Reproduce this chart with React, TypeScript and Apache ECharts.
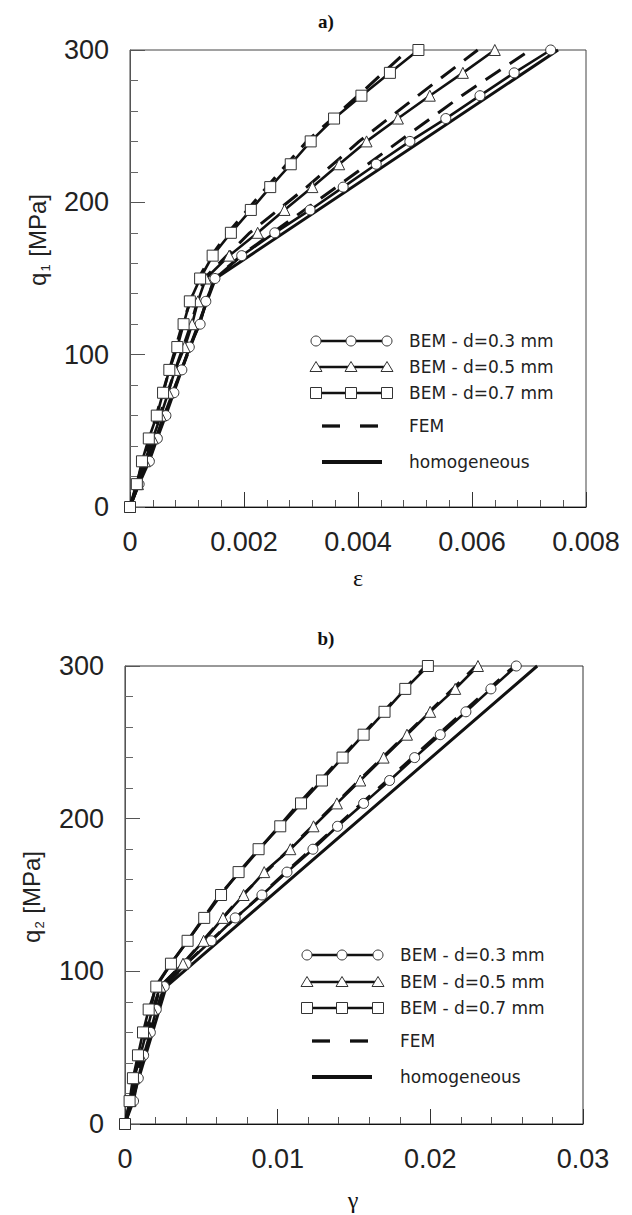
import React, { useEffect, useRef } from "react";
import * as echarts from "echarts";

// ---------- chart a) ----------
const qA = [0, 15, 30, 45, 60, 75, 90, 105, 120, 135, 150, 165, 180, 195, 210, 225, 240, 255, 270, 285, 300];
const bem03A = [0, 0.00016, 0.00034, 0.00048, 0.00063, 0.00077, 0.00091, 0.00104, 0.00123, 0.00133, 0.00149, 0.00196, 0.00254, 0.00316, 0.00374, 0.00432, 0.00491, 0.00554, 0.00614, 0.00674, 0.00738];
const bem05A = [0, 0.00014, 0.00026, 0.0004, 0.00054, 0.00067, 0.00079, 0.00096, 0.00109, 0.00119, 0.00133, 0.00174, 0.00224, 0.00271, 0.0032, 0.00367, 0.00415, 0.0047, 0.00526, 0.00584, 0.0064];
const bem07A = [0, 0.00012, 0.00021, 0.00033, 0.00047, 0.00058, 0.00069, 0.00083, 0.00094, 0.00105, 0.00123, 0.00145, 0.00177, 0.00212, 0.00246, 0.00282, 0.00317, 0.00358, 0.00406, 0.00456, 0.00506];
const qFemA = [0, 60, 120, 150, 165, 180, 210, 240, 270, 300];
const fem03A = [0, 0.0006, 0.00121, 0.00148, 0.00195, 0.0025, 0.00362, 0.00472, 0.00582, 0.00702];
const fem05A = [0, 0.00052, 0.00107, 0.0013, 0.0017, 0.0021, 0.0031, 0.00402, 0.00505, 0.0061];
const fem07A = [0, 0.00046, 0.00092, 0.0012, 0.00143, 0.00172, 0.0024, 0.0031, 0.004, 0.00488];
const qHomA = [0, 150, 300];
const homA = [0, 0.0015, 0.00751];
const xLabelsA = ["0", "0.002", "0.004", "0.006", "0.008"];
const xStepA = 0.002;

// ---------- chart b) ----------
const qB = [0, 15, 30, 45, 60, 75, 90, 105, 120, 135, 150, 165, 180, 195, 210, 225, 240, 255, 270, 285, 300];
const bem03B = [0, 0.00056, 0.00087, 0.00122, 0.00166, 0.00205, 0.00257, 0.00401, 0.00565, 0.00722, 0.00897, 0.01061, 0.01231, 0.01392, 0.01563, 0.01733, 0.01897, 0.02065, 0.02233, 0.02397, 0.02563];
const bem05B = [0, 0.00035, 0.00061, 0.001, 0.0014, 0.00179, 0.00231, 0.0038, 0.00515, 0.00642, 0.00777, 0.00912, 0.01083, 0.01235, 0.01388, 0.01541, 0.01694, 0.01847, 0.01999, 0.02163, 0.02312];
const bem07B = [0, 0.0003, 0.00052, 0.00085, 0.00118, 0.00155, 0.00205, 0.00301, 0.0041, 0.00519, 0.00629, 0.00744, 0.00875, 0.01017, 0.01153, 0.0129, 0.01425, 0.01563, 0.017, 0.01836, 0.01984];
const qFemB = [0, 90, 105, 120, 150, 210, 300];
const fem03B = [0, 0.00255, 0.004, 0.0056, 0.0089, 0.0155, 0.0255];
const fem05B = [0, 0.0023, 0.0038, 0.0051, 0.0077, 0.0138, 0.023];
const fem07B = [0, 0.002, 0.003, 0.0041, 0.0062, 0.0114, 0.0197];
const qHomB = [0, 90, 300];
const homB = [0, 0.0027, 0.027];
const xLabelsB = ["0", "0.01", "0.02", "0.03"];
const xStepB = 0.01;

const yLabels = ["0", "100", "200", "300"];
const yStep = 100;

const legendNames = ["BEM - d=0.3 mm", "BEM - d=0.5 mm", "BEM - d=0.7 mm", "FEM", "homogeneous"];

const pairs = (xs: number[], ys: number[]) => xs.map((x, i) => [x, ys[i]]);

const TICK_FONT = "Liberation Sans";
const INK = "#111";

function makeAxes(gi: number, xmax: number, xstep: number, xl: string[]) {
  const x = {
    gridIndex: gi,
    type: "value",
    min: 0,
    max: xmax,
    interval: xstep,
    axisLine: { show: true, onZero: false, lineStyle: { color: INK, width: 1 } },
    axisTick: { show: true, inside: true, length: 15, lineStyle: { color: "#333", width: 1 } },
    minorTick: { show: true, splitNumber: 5, length: 7, lineStyle: { color: "#555", width: 1 } },
    splitLine: { show: false },
    minorSplitLine: { show: false },
    axisLabel: {
      margin: 21,
      fontSize: 27,
      fontFamily: TICK_FONT,
      color: "#222",
      formatter: (v: number) => xl[Math.round(v / xstep)] ?? "",
    },
  };
  const y = {
    gridIndex: gi,
    type: "value",
    min: 0,
    max: 300,
    interval: yStep,
    axisLine: { show: true, onZero: false, lineStyle: { color: "#555", width: 1 } },
    axisTick: { show: true, inside: true, length: 15, lineStyle: { color: "#555", width: 1 } },
    minorTick: { show: true, splitNumber: 5, length: 8, lineStyle: { color: "#666", width: 1 } },
    splitLine: { show: false },
    minorSplitLine: { show: false },
    axisLabel: {
      margin: 21,
      fontSize: 27,
      fontFamily: TICK_FONT,
      color: "#222",
      formatter: (v: number) => yLabels[Math.round(v / yStep)] ?? "",
    },
  };
  return { x, y };
}

function makeSeries(
  gi: number,
  q: number[],
  b03: number[],
  b05: number[],
  b07: number[],
  qf: number[],
  f03: number[],
  f05: number[],
  f07: number[],
  qh: number[],
  h: number[]
) {
  const base = { type: "line", xAxisIndex: gi, yAxisIndex: gi, clip: false, silent: true };
  const fem = (name: string, xs: number[]) => ({
    ...base,
    name,
    data: pairs(xs, qf),
    symbol: "none",
    showSymbol: false,
    lineStyle: { color: INK, width: 3, type: [18, 11] },
    z: 2,
  });
  const bem = (name: string, xs: number[], symbol: string, size: number) => ({
    ...base,
    name,
    data: pairs(xs, q),
    symbol,
    symbolSize: size,
    showSymbol: true,
    lineStyle: { color: INK, width: 2.6 },
    itemStyle: { color: "#fff", borderColor: "#333", borderWidth: 1 },
    z: 3,
  });
  return [
    {
      ...base,
      name: "homogeneous",
      data: pairs(h, qh),
      symbol: "none",
      showSymbol: false,
      lineStyle: { color: INK, width: 3 },
      z: 2,
    },
    fem("FEM 0.3", f03),
    fem("FEM 0.5", f05),
    fem("FEM 0.7", f07),
    bem(legendNames[0], b03, "circle", 10),
    bem(legendNames[1], b05, "triangle", 11),
    bem(legendNames[2], b07, "rect", 11),
  ];
}

function legendGraphic(mx: number[], rows: number[], textX: number, dash: number[][], homLine: number[]) {
  const els: any[] = [];
  const lineStyle = { stroke: INK, lineWidth: 2.7 };
  const mk = { fill: "#fff", stroke: "#333", lineWidth: 1 };
  for (let r = 0; r < 3; r++) {
    const y = rows[r];
    els.push({ type: "line", shape: { x1: mx[0], y1: y, x2: mx[2], y2: y }, style: lineStyle, z: 10 });
    for (const x of mx) {
      if (r === 0) els.push({ type: "circle", shape: { cx: x, cy: y, r: 5 }, style: mk, z: 11 });
      else if (r === 1)
        els.push({
          type: "polygon",
          shape: { points: [[x, y - 5.5], [x + 6, y + 4.5], [x - 6, y + 4.5]] },
          style: mk,
          z: 11,
        });
      else els.push({ type: "rect", shape: { x: x - 5.5, y: y - 5.5, width: 11, height: 11 }, style: mk, z: 11 });
    }
  }
  for (const d of dash) {
    els.push({ type: "line", shape: { x1: d[0], y1: rows[3], x2: d[1], y2: rows[3] }, style: { stroke: INK, lineWidth: 3.3 }, z: 10 });
  }
  els.push({ type: "line", shape: { x1: homLine[0], y1: rows[4], x2: homLine[1], y2: rows[4] }, style: { stroke: INK, lineWidth: 3.8 }, z: 10 });
  legendNames.forEach((t, i) => {
    els.push({
      type: "text",
      x: textX,
      y: rows[i],
      style: {
        text: t,
        font: '17px "DejaVu Sans"',
        fontSize: 17,
        fontFamily: "DejaVu Sans",
        fill: "#222",
        align: "left",
        verticalAlign: "middle",
        textAlign: "left",
        textVerticalAlign: "middle",
      },
      z: 12,
    });
  });
  return els;
}

function textEl(text: string, x: number, y: number, font: string, extra: any = {}) {
  return {
    type: "text",
    x,
    y,
    ...extra,
    style: {
      text,
      font,
      fill: "#111",
      align: "center",
      verticalAlign: "middle",
      textAlign: "center",
      textVerticalAlign: "middle",
      ...(extra.style || {}),
    },
  };
}

function yName(sub: string, x: number, y: number) {
  return {
    type: "text",
    x,
    y,
    rotation: Math.PI / 2,
    style: {
      text: `{a|q}{b|${sub}}{a| [MPa]}`,
      rich: {
        a: { fontSize: 24, fontFamily: "Liberation Sans", fill: "#222", color: "#222", lineHeight: 30 },
        b: { fontSize: 13, fontFamily: "Liberation Sans", fill: "#222", color: "#222", verticalAlign: "bottom", lineHeight: 30, padding: [0, 1, 0, 1] },
      },
      align: "center",
      verticalAlign: "middle",
      textAlign: "center",
      textVerticalAlign: "middle",
    },
  };
}

export default function App() {
  const ref = useRef<HTMLDivElement>(null);
  useEffect(() => {
    document.body.style.margin = "0";
    if (!ref.current) return;
    const chart = echarts.init(ref.current, undefined, { renderer: "svg" });
    const a = makeAxes(0, 0.008, xStepA, xLabelsA);
    const b = makeAxes(1, 0.03, xStepB, xLabelsB);
    chart.setOption({
      animation: false,
      backgroundColor: "#fff",
      grid: [
        { left: 130, top: 50, width: 456, height: 457, show: true, borderColor: "#444", borderWidth: 1 },
        { left: 125, top: 666, width: 458, height: 458, show: true, borderColor: "#333", borderWidth: 1 },
      ],
      xAxis: [a.x, b.x],
      yAxis: [a.y, b.y],
      series: [
        ...makeSeries(0, qA, bem03A, bem05A, bem07A, qFemA, fem03A, fem05A, fem07A, qHomA, homA),
        ...makeSeries(1, qB, bem03B, bem05B, bem07B, qFemB, fem03B, fem05B, fem07B, qHomB, homB),
      ],
      graphic: [
        textEl("a)", 326, 21, 'bold 19px "Liberation Serif"'),
        textEl("b)", 326, 638, 'bold 19px "Liberation Serif"'),
        textEl("ε", 358, 578, '24px "Liberation Serif"'),
        textEl("γ", 353, 1200, '24px "Liberation Serif"'),
        yName("1", 37, 240),
        yName("2", 31, 897),
        ...legendGraphic([316, 351, 387], [341, 367, 393, 426, 462], 409, [[322, 340], [360, 378]], [322, 382]),
        ...legendGraphic([307, 342, 378], [955, 982, 1008, 1041, 1077], 400, [[312, 330], [350, 368]], [312, 372]),
      ],
    });
    return () => chart.dispose();
  }, []);
  return <div ref={ref} style={{ width: 632, height: 1215 }} />;
}
